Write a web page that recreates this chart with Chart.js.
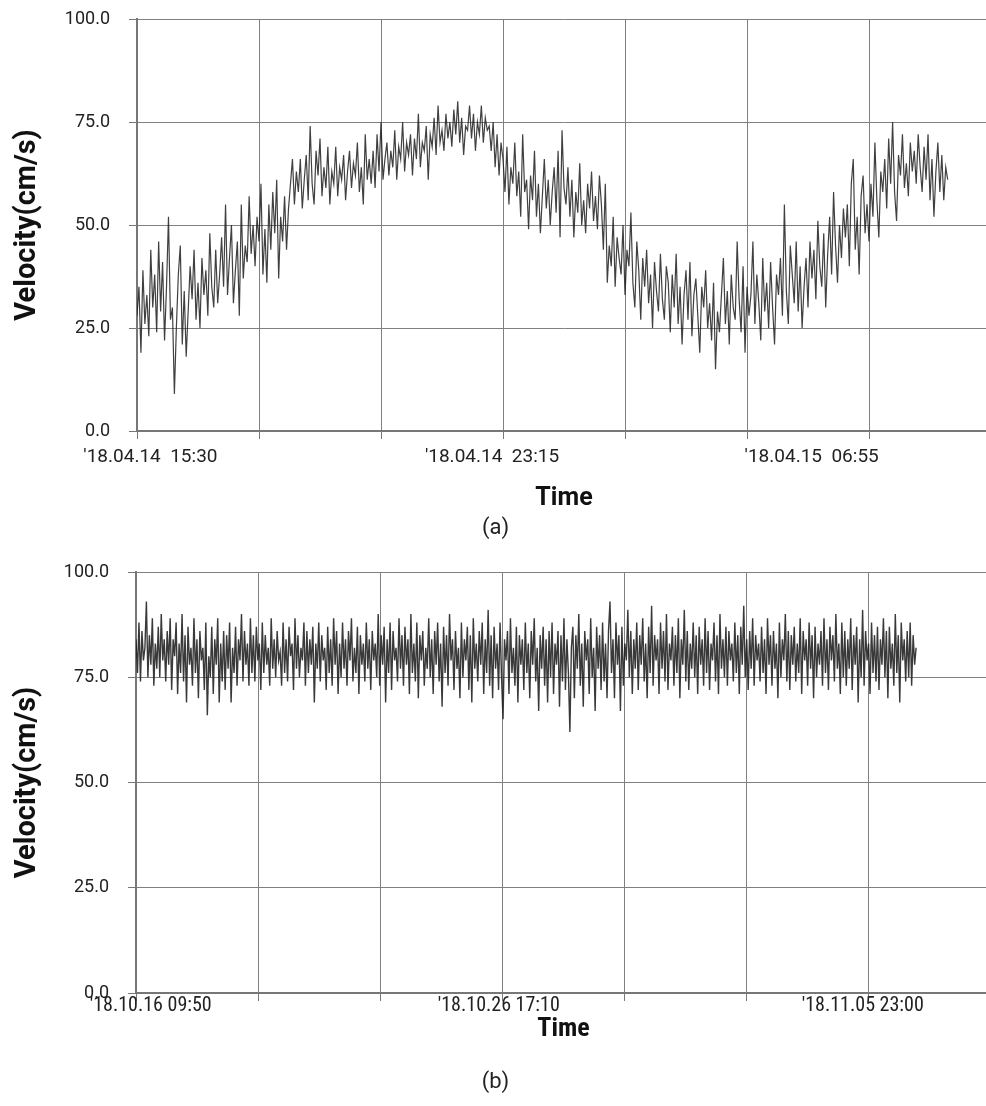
<!DOCTYPE html>
<html>
<head>
<meta charset="utf-8">
<script src="https://cdn.jsdelivr.net/npm/chart.js@4"></script>
<style>
  html, body { margin: 0; padding: 0; background: #fff; }
  body { width: 986px; height: 1106px; overflow: hidden; }
  .wrap { width: 1000px; overflow: hidden; }
  canvas { display: block; }
</style>
</head>
<body>
<div class="wrap"><canvas id="chartA" width="1000" height="545"></canvas></div>
<div class="wrap"><canvas id="chartB" width="1000" height="561"></canvas></div>
<script>
// (a) '18.04.14 15:30 ~ '18.04.15, 2.5 min samples, one grid step = 155 min
const velA = [
  28, 35, 19, 39, 26, 33, 23, 44, 30, 38, 24, 46, 29, 41, 22, 35, 52, 27, 30, 9,
  25, 38, 45, 21, 34, 18, 29, 40, 32, 44, 27, 36, 25, 42, 33, 39, 28, 48, 35, 30,
  44, 31, 38, 47, 35, 55, 33, 42, 50, 31, 39, 46, 28, 55, 37, 45, 41, 57, 43, 50,
  40, 52, 46, 60, 38, 49, 36, 55, 44, 58, 48, 61, 37, 52, 46, 57, 44, 54, 60, 66,
  55, 63, 58, 66, 54, 61, 67, 56, 74, 60, 55, 68, 62, 71, 57, 64, 59, 69, 55, 63,
  60, 69, 57, 64, 61, 67, 56, 63, 68, 59, 65, 62, 70, 58, 64, 55, 72, 61, 66, 60,
  68, 59, 72, 63, 75, 61, 66, 70, 62, 68, 64, 73, 61, 69, 66, 75, 63, 70, 67, 72,
  62, 71, 66, 77, 64, 70, 68, 74, 61, 72, 69, 76, 67, 79, 70, 73, 68, 77, 71, 75,
  69, 78, 72, 80, 70, 76, 67, 74, 73, 79, 71, 77, 68, 75, 72, 79, 70, 76, 73, 74,
  68, 75, 64, 72, 62, 70, 66, 58, 69, 55, 64, 60, 70, 57, 63, 52, 72, 58, 61, 49,
  62, 56, 68, 52, 60, 48, 57, 66, 54, 61, 50, 58, 64, 53, 68, 47, 73, 59, 55, 64,
  52, 61, 47, 58, 53, 65, 50, 56, 48, 60, 54, 63, 51, 57, 49, 62, 55, 44, 60, 36,
  45, 40, 52, 35, 47, 42, 38, 50, 33, 44, 40, 53, 36, 30, 46, 39, 27, 42, 35, 44,
  31, 38, 25, 41, 34, 29, 43, 32, 27, 40, 36, 24, 38, 30, 43, 26, 35, 21, 33, 39,
  27, 41, 23, 33, 37, 28, 19, 35, 30, 39, 25, 31, 22, 36, 15, 29, 24, 33, 42, 26,
  34, 21, 38, 30, 27, 46, 32, 24, 40, 19, 35, 28, 33, 46, 26, 38, 31, 22, 42, 29,
  36, 25, 41, 30, 21, 38, 33, 42, 28, 55, 34, 26, 45, 38, 31, 46, 29, 40, 25, 35,
  42, 30, 46, 37, 44, 32, 51, 40, 35, 48, 30, 43, 52, 38, 58, 45, 36, 50, 42, 54,
  47, 55, 40, 60, 66, 44, 52, 38, 57, 62, 48, 55, 46, 60, 52, 70, 56, 47, 63, 58,
  66, 54, 71, 60, 75, 58, 51, 67, 62, 72, 59, 65, 57, 70, 63, 68, 60, 72, 64, 58,
  69, 61, 72, 56, 66, 52, 63, 70, 58, 67, 56, 64, 61
];
const stepA = 2.5 / 155;
const xLabelsA = ["'18.04.14  15:30", "'18.04.14  23:15", "'18.04.15  06:55"];
const xLabelPosA = [0.11, 2.91, 5.53];

// (b) '18.10.16 09:50 ~ '18.11.05, 1 h samples, one grid step = 82.2 h
const velB = [
  84, 76, 88, 74, 86, 79, 82, 93, 75, 85, 78, 89, 73, 83, 77, 87, 75, 90, 79, 84,
  74, 86, 78, 89, 72, 84, 80, 88, 71, 83, 76, 90, 74, 85, 69, 87, 78, 82, 73, 89,
  76, 84, 70, 86, 79, 82, 72, 88, 66, 80, 75, 87, 71, 84, 78, 89, 69, 83, 74, 86,
  72, 85, 77, 88, 69, 82, 76, 87, 73, 84, 79, 90, 74, 86, 78, 83, 73, 89, 76, 85,
  74, 87, 79, 83, 72, 88, 76, 85, 78, 82, 73, 89, 77, 84, 75, 86, 79, 81, 73, 88,
  76, 84, 74, 87, 80, 83, 72, 89, 77, 85, 75, 82, 79, 88, 73, 86, 76, 84, 78, 87,
  69, 83, 77, 88, 74, 85, 79, 82, 72, 87, 76, 84, 73, 89, 78, 86, 71, 83, 75, 88,
  77, 84, 73, 86, 79, 89, 74, 82, 76, 87, 71, 85, 78, 83, 74, 88, 77, 84, 72, 86,
  79, 83, 75, 90, 73, 85, 78, 87, 69, 84, 76, 88, 72, 86, 79, 82, 74, 89, 77, 85,
  73, 87, 78, 84, 71, 90, 76, 83, 74, 88, 70, 85, 79, 86, 73, 82, 77, 89, 75, 84,
  71, 86, 78, 88, 74, 83, 68, 87, 76, 85, 73, 90, 79, 84, 72, 86, 77, 82, 70, 88,
  75, 84, 79, 87, 72, 85, 69, 89, 77, 83, 74, 86, 78, 88, 71, 84, 76, 91, 73, 85,
  70, 87, 77, 83, 72, 88, 75, 65, 84, 79, 86, 71, 89, 76, 82, 73, 87, 69, 85, 78,
  84, 72, 88, 76, 83, 70, 86, 78, 89, 74, 82, 67, 85, 77, 87, 73, 84, 69, 86, 75,
  88, 71, 83, 78, 86, 68, 85, 74, 89, 72, 84, 76, 62, 82, 87, 70, 85, 77, 90, 73,
  83, 68, 86, 79, 84, 71, 89, 75, 82, 67, 87, 77, 85, 72, 88, 74, 83, 70, 86, 93,
  76, 84, 70, 88, 78, 85, 67, 87, 73, 83, 79, 91, 75, 86, 71, 84, 77, 88, 72, 85,
  78, 89, 74, 83, 70, 87, 76, 92, 73, 85, 79, 84, 71, 88, 77, 86, 74, 90, 72, 83,
  79, 87, 73, 85, 76, 89, 70, 84, 78, 91, 74, 86, 72, 83, 77, 88, 75, 85, 71, 87,
  78, 84, 73, 89, 76, 86, 72, 83, 79, 88, 74, 85, 71, 90, 77, 84, 75, 87, 73, 86,
  79, 83, 74, 88, 76, 85, 71, 87, 78, 92, 75, 84, 72, 86, 77, 89, 73, 85, 79, 83,
  74, 87, 76, 84, 71, 89, 78, 85, 73, 86, 77, 83, 70, 88, 75, 84, 79, 90, 74, 86,
  72, 85, 78, 87, 74, 83, 76, 89, 71, 86, 79, 84, 73, 88, 77, 85, 70, 87, 75, 83,
  78, 86, 73, 89, 76, 84, 72, 87, 79, 85, 74, 90, 77, 83, 71, 88, 75, 86, 73, 84,
  77, 89, 72, 85, 78, 87, 69, 84, 75, 91, 73, 86, 79, 83, 71, 88, 76, 85, 74, 87,
  72, 84, 78, 89, 75, 86, 70, 87, 77, 83, 73, 90, 76, 85, 69, 88, 79, 84, 74, 86,
  75, 88, 73, 85, 78, 82
];
const stepB = 1 / 82.2;
const xLabelsB = ["'18.10.16 09:50", "'18.10.26 17:10", "'18.11.05 23:00"];
const xLabelPosB = [0.12, 2.97, 5.95];

const yMin = 0, yMax = 100, yStep = 25;
const gridSteps = 7;

const FONT = 'Roboto, "Noto Sans", sans-serif';
const FONT_NARROW = '"Liberation Sans Narrow", "Roboto Condensed", Roboto, sans-serif';

function makeChart(id, values, step, labels, labelPos, opt) {
    const ctx = document.getElementById(id).getContext('2d');
    const gridOpts = {
        color: '#808080',
        lineWidth: 1,
        borderDash: [2, 2],
        tickLength: 8,
        tickBorderDash: [],
        tickColor: '#777'
    };
    return new Chart(ctx, {
        type: 'line',
        data: {
            datasets: [{
                data: values.map((v, i) => ({ x: i * step, y: v })),
                borderColor: opt.lineColor,
                borderWidth: opt.lineWidth,
                pointRadius: 0,
                tension: 0,
                fill: false
            }]
        },
        options: {
            responsive: false,
            animation: false,
            layout: { padding: opt.padding },
            plugins: {
                legend: { display: false },
                tooltip: { enabled: false },
                subtitle: {
                    display: true,
                    position: 'bottom',
                    text: opt.caption,
                    color: '#222',
                    font: { family: FONT, size: 22, weight: 'normal', lineHeight: 1 },
                    padding: { top: opt.captionGap, bottom: 0 }
                }
            },
            scales: {
                x: {
                    type: 'linear',
                    min: 0,
                    max: gridSteps,
                    weight: 0,
                    afterFit: s => { s.height = opt.xAxisH; },
                    ticks: { stepSize: 1, display: false },
                    grid: gridOpts,
                    border: { display: true, color: '#777', width: 2 }
                },
                xl: {
                    type: 'linear',
                    position: 'bottom',
                    min: 0,
                    max: gridSteps,
                    weight: 1,
                    afterBuildTicks: axis => {
                        axis.ticks = labelPos.map(v => ({ value: v }));
                    },
                    afterFit: s => { s.height = opt.labelAxisH; },
                    grid: { display: false, drawTicks: false },
                    border: { display: false },
                    ticks: {
                        autoSkip: false,
                        maxRotation: 0,
                        padding: opt.labelPad,
                        color: '#222',
                        font: { family: opt.labelFont, size: opt.labelSize, lineHeight: 1 },
                        callback: (v, i) => labels[i]
                    },
                    title: {
                        display: true,
                        text: 'Time',
                        color: '#111',
                        font: { family: opt.labelFont, size: opt.timeSize, weight: 'bold', lineHeight: 1 },
                        padding: { top: 0, bottom: 0 }
                    }
                },
                y: {
                    min: yMin,
                    max: yMax,
                    afterFit: s => {
                        s.width = opt.yAxisW;
                        s.paddingTop = 0;
                        s.paddingBottom = 0;
                    },
                    ticks: {
                        stepSize: yStep,
                        padding: 19,
                        color: '#222',
                        font: { family: FONT, size: 18, lineHeight: 1 },
                        callback: v => v.toFixed(1)
                    },
                    grid: gridOpts,
                    border: { display: true, color: '#777', width: 2 },
                    title: {
                        display: true,
                        text: 'Velocity(cm/s)',
                        color: '#111',
                        font: { family: FONT, size: 29, weight: 'bold', lineHeight: 1 },
                        padding: { top: 13, bottom: 0 }
                    }
                }
            }
        }
    });
}

makeChart('chartA', velA, stepA, xLabelsA, xLabelPosA, {
    padding: { top: 19, right: 9, bottom: 6, left: 0 },
    caption: '(a)',
    captionGap: 6,
    xAxisH: 9,
    labelAxisH: 71,
    yAxisW: 137,
    labelPad: 8,
    labelSize: 19,
    timeSize: 25,
    labelFont: FONT,
    lineColor: 'rgba(30, 30, 30, 0.85)',
    lineWidth: 1.2
});

makeChart('chartB', velB, stepB, xLabelsB, xLabelPosB, {
    padding: { top: 27, right: 9, bottom: 13, left: 0 },
    caption: '(b)',
    captionGap: 29,
    xAxisH: 2,
    labelAxisH: 47,
    yAxisW: 136,
    labelPad: 1,
    labelSize: 20,
    timeSize: 26,
    labelFont: FONT_NARROW,
    lineColor: 'rgba(30, 30, 30, 0.88)',
    lineWidth: 1.4
});
</script>
</body>
</html>
